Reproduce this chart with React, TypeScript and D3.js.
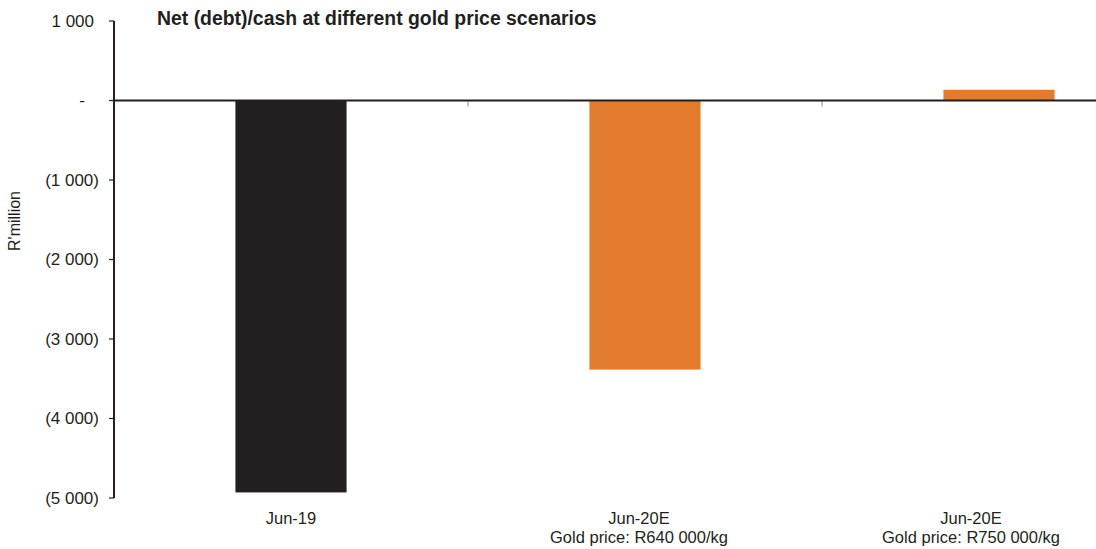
import React from "react";
import * as d3 from "d3";

const categories = ["Jun-19", "Jun-20E|Gold price: R640 000/kg", "Jun-20E|Gold price: R750 000/kg"];
const values = [-4930, -3385, 135];
const barColors = ["#231f20", "#e37c2d", "#e37c2d"];
const yTicks = [1000, 0, -1000, -2000, -3000, -4000, -5000];
const title = "Net (debt)/cash at different gold price scenarios";
const yLabel = "R'million";

const W = 1096;
const H = 549;
const TEXT = "#231f20";
const FONT = "'Liberation Sans', Arial, sans-serif";
// layout: horizontal nudge of category labels (as in the source chart)
const LABEL_SHIFT = [0, -6, -28];

function fmt(v: number): string {
  if (v === 0) return "-";
  const s = Math.abs(v).toString().replace(/\B(?=(\d{3})+(?!\d))/g, " ");
  return v < 0 ? `(${s})` : s;
}

function labelRight(v: number): number {
  if (v === 0) return 85;
  if (v > 0) return 94;
  return 99;
}

export default function App() {
  const x0 = 114;
  const step = 354;
  const x = d3
    .scaleBand<string>()
    .domain(categories)
    .range([x0, x0 + step * categories.length])
    .paddingInner(0.686)
    .paddingOuter(0.343);
  const y = d3.scaleLinear().domain([-5000, 1000]).range([498, 21]);

  const boundaries = categories.slice(1).map((c) => (x(c) as number) - (x.step() * x.paddingInner()) / 2);

  return (
    <svg width={W} height={H} style={{ position: "absolute", left: 0, top: 0, background: "#fff" }} fontFamily={FONT}>
      <text x={157} y={25} fontSize={19.4} fontWeight="bold" fill={TEXT}>
        {title}
      </text>
      <text
        transform={`translate(20,${221}) rotate(-90)`}
        textAnchor="middle"
        fontSize={16}
        fill={TEXT}
      >
        {yLabel}
      </text>
      {yTicks.map((t) => (
        <g key={t}>
          <line x1={109} x2={x0} y1={y(t)} y2={y(t)} stroke={TEXT} strokeWidth={1.2} />
          <text x={labelRight(t)} y={y(t)} dy="0.35em" textAnchor="end" fontSize={17} fill={TEXT}>
            {fmt(t)}
          </text>
        </g>
      ))}
      {categories.map((c, i) => {
        const v = values[i];
        const y1 = y(Math.max(0, v));
        const y2 = y(Math.min(0, v));
        return (
          <rect key={c} x={x(c)} width={x.bandwidth()} y={y1} height={y2 - y1} fill={barColors[i]} />
        );
      })}
      {boundaries.map((b, i) => (
        <line key={i} x1={b} x2={b} y1={y(0)} y2={y(0) + 6} stroke="#888" strokeWidth={1} />
      ))}
      <line x1={x0} x2={W} y1={y(0)} y2={y(0)} stroke={TEXT} strokeWidth={2} />
      <line x1={x0} x2={x0} y1={y(1000)} y2={y(-5000)} stroke={TEXT} strokeWidth={2} />
      {categories.map((c, i) => {
        const lines = c.split("|");
        const cx = (x(c) as number) + x.bandwidth() / 2 + LABEL_SHIFT[i];
        return (
          <text key={c} textAnchor="middle" fontSize={16.5} fill={TEXT}>
            {lines.map((l, j) => (
              <tspan key={j} x={cx} y={524 + j * 19}>
                {l}
              </tspan>
            ))}
          </text>
        );
      })}
    </svg>
  );
}
